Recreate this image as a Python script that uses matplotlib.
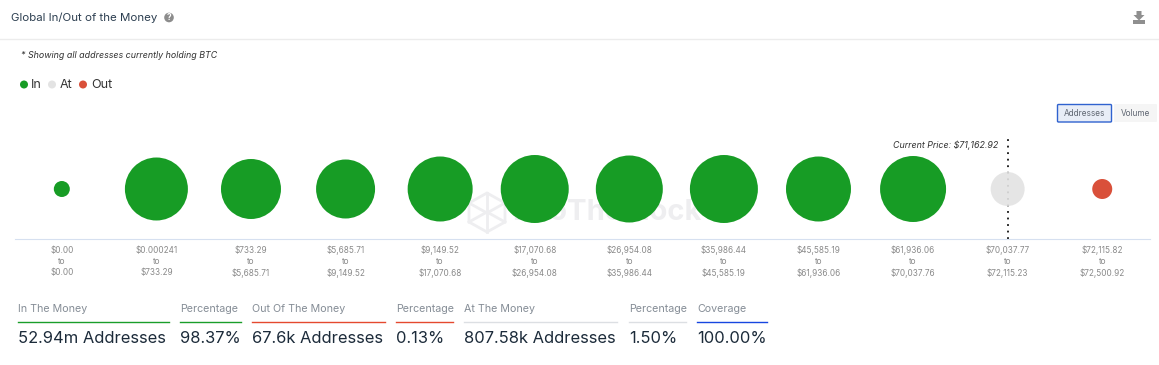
import matplotlib
matplotlib.use('Agg')
import matplotlib.pyplot as plt
from matplotlib.patches import Circle, FancyBboxPatch, Polygon

plt.rcParams['font.family'] = ['Inter', 'DejaVu Sans']

W, H = 1159, 365
DPI = 100

# Price ranges and bubble diameters (px)
range_low = ['$0.00', '$0.000241', '$733.29', '$5,685.71', '$9,149.52', '$17,070.68',
             '$26,954.08', '$35,986.44', '$45,585.19', '$61,936.06', '$70,037.77', '$72,115.82']
range_high = ['$0.00', '$733.29', '$5,685.71', '$9,149.52', '$17,070.68', '$26,954.08',
              '$35,986.44', '$45,585.19', '$61,936.06', '$70,037.76', '$72,115.23', '$72,500.92']
bubble_sizes = [16, 63, 60, 59, 65, 68, 67, 68, 65, 66, 34, 20]
bubble_status = ['In'] * 10 + ['At', 'Out']

status_colors = {'In': '#179c25', 'At': '#e3e3e3', 'Out': '#d9503a'}

# Summary row under the chart
stat_labels = ['In The Money', 'Percentage', 'Out Of The Money', 'Percentage',
               'At The Money', 'Percentage', 'Coverage']
stat_values = ['52.94m Addresses', '98.37%', '67.6k Addresses', '0.13%',
               '807.58k Addresses', '1.50%', '100.00%']
stat_left = [18, 180, 252, 396, 464, 629, 697]
stat_right = [169, 241, 385, 453, 617, 686, 767]
stat_colors = ['#1a9e2a', '#1a9e2a', '#e5492f', '#e5492f', '#dcdfe3', '#dcdfe3', '#1746e0']

fig = plt.figure(figsize=(W / DPI, H / DPI), dpi=DPI)

# Overlay in pixel coordinates for the page furniture
page = fig.add_axes([0, 0, 1, 1])
page.set_xlim(0, W)
page.set_ylim(H, 0)
page.axis('off')

page.text(11, 18, 'Global In/Out of the Money', fontsize=8.25, color='#2c3e50', va='center')
page.add_patch(Circle((169, 17.5), 4.8, color='#8c8c8c', lw=0))
page.text(169, 17.7, '?', fontsize=6, color='white', ha='center', va='center', fontweight='bold')
page.plot([0, W], [38.5, 38.5], color='#ececec', lw=1)

# download icon
page.add_patch(Polygon([[1136.5, 11], [1141.5, 11], [1141.5, 15], [1144.5, 15], [1139, 20.5], [1133.5, 15],
                        [1136.5, 15]], closed=True, color='#8f8f8f', lw=0))
page.add_patch(Polygon([[1133, 20], [1145, 20], [1145, 24], [1133, 24]], closed=True, color='#8f8f8f', lw=0))
page.text(21, 56, '* Showing all addresses currently holding BTC', fontsize=6.4, style='italic',
          color='#333333', va='center')

# legend
for x, name, tx in [(24, 'In', 31), (52, 'At', 60), (83, 'Out', 91)]:
    page.add_patch(Circle((x, 84.5), 4, color=status_colors[name], lw=0))
    page.text(tx, 85, name, fontsize=9, color='#333333', va='center')

# Addresses / Volume buttons
page.add_patch(FancyBboxPatch((1057.5, 104.5), 54, 17.5, boxstyle='round,pad=0,rounding_size=1',
                              fc='#e8edf7', ec='#2f62cf', lw=1))
page.text(1084.5, 113.5, 'Addresses', fontsize=5.9, color='#5f6672', ha='center', va='center')
page.add_patch(FancyBboxPatch((1114, 104), 43, 18, boxstyle='round,pad=0,rounding_size=1',
                              fc='#f5f5f5', ec='none'))
page.text(1135.5, 113.5, 'Volume', fontsize=5.9, color='#5f6672', ha='center', va='center')

# watermark
wm = '#eeeef0'
page.add_patch(Polygon([[487, 193], [505, 203], [505, 222], [487, 232], [469, 222], [469, 203]],
                       closed=True, fc='none', ec=wm, lw=2))
page.plot([469, 487, 505], [203, 213, 203], color=wm, lw=2)
page.plot([469, 487, 505], [222, 212, 222], color=wm, lw=2)
page.plot([487, 487], [193, 232], color=wm, lw=2)
page.text(512, 213, 'IntoTheBlock', fontsize=21, fontweight='bold', color=wm, ha='left', va='center')

# Bubble chart
ax = fig.add_axes([15 / W, 1 - 239 / H, (1150 - 15) / W, (239 - 135) / H])
ax.patch.set_alpha(0)
x = list(range(len(bubble_sizes)))
areas = [(d * 72 / DPI) ** 2 for d in bubble_sizes]
# the At bubble lets the price line show through a little
colors = [status_colors[s] if s != 'At' else status_colors[s] + 'e6' for s in bubble_status]
ax.scatter(x, [0] * len(x), s=areas, c=colors, linewidths=0, zorder=3, clip_on=False)
ax.set_xlim(-0.495, len(x) - 0.495)
ax.set_ylim(-50, 54)
ax.set_yticks([])
ax.set_xticks(x)
ax.set_xticklabels([f'{a}\nto\n{b}' for a, b in zip(range_low, range_high)], fontsize=5.9,
                   color='#8a8a8a', linespacing=1.28)
ax.tick_params(axis='x', length=0, pad=5)
for side in ['top', 'left', 'right']:
    ax.spines[side].set_visible(False)
ax.spines['bottom'].set_color('#d6e0f0')
ax.spines['bottom'].set_linewidth(0.8)

# current price marker sits in the 'At' band
ax.axvline(10, ymin=0, ymax=0.96, color='#111111', lw=1.3, ls=(0, (1, 2.62)), zorder=2)
page.text(998, 145, 'Current Price: $71,162.92', fontsize=6.4, style='italic', color='#333333',
          ha='right', va='center')

# Summary row
for label, value, left, right, color in zip(stat_labels, stat_values, stat_left, stat_right, stat_colors):
    page.text(left, 308.5, label, fontsize=7.7, color='#858d96', va='center')
    page.plot([left, right], [321.5, 321.5], color=color, lw=1)
    page.text(left, 338.5, value, fontsize=11.9, color='#1c2b3a', va='center')

fig.savefig('out.png', dpi=DPI)
